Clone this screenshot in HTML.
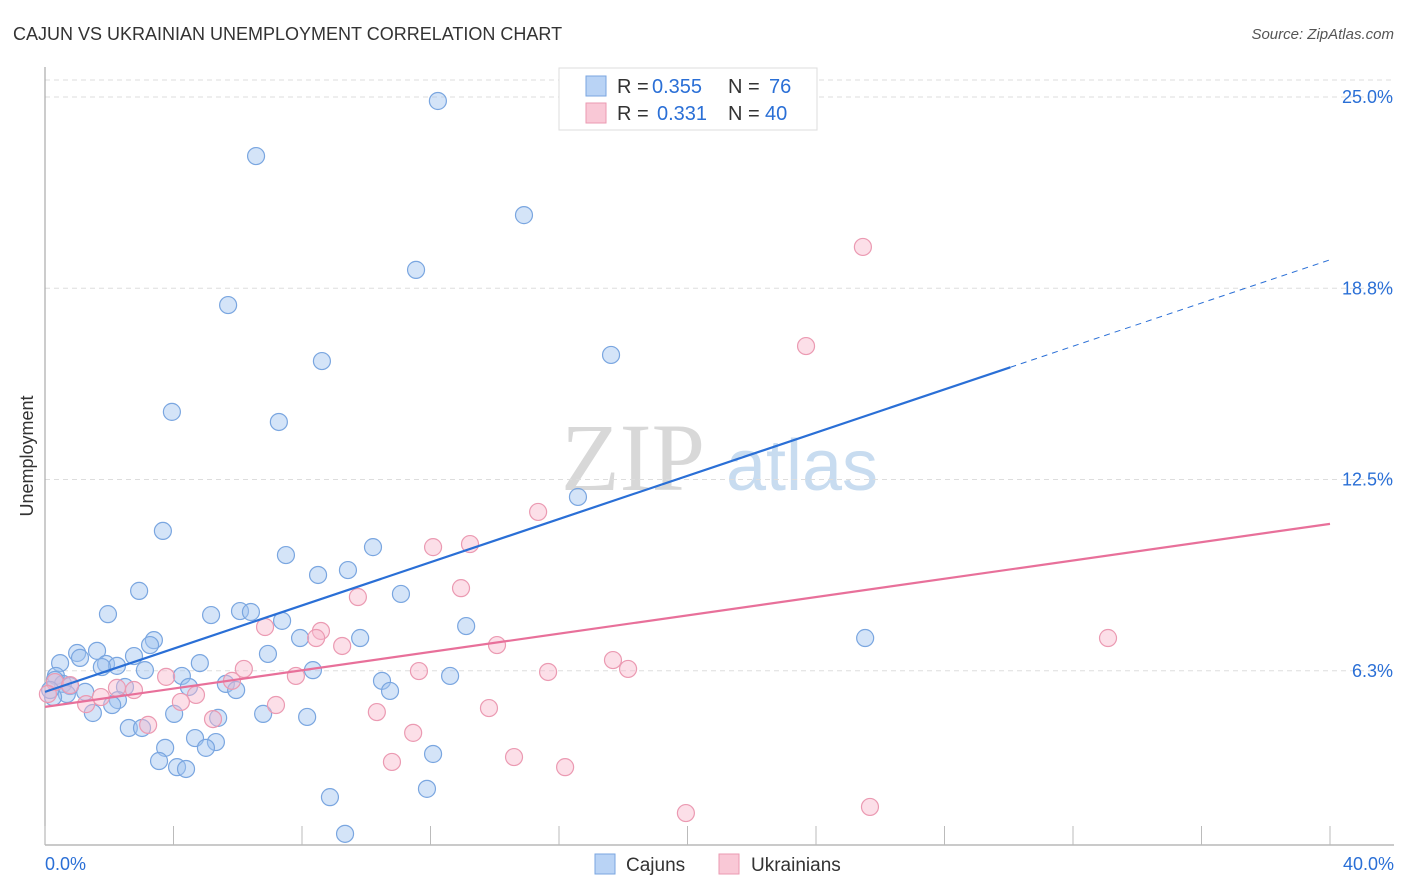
<!DOCTYPE html>
<html><head><meta charset="utf-8"><style>
body{margin:0;background:#fff;font-family:"Liberation Sans",sans-serif;}
svg{display:block}
</style></head><body>
<svg id="chart" width="1406" height="892" xmlns="http://www.w3.org/2000/svg">
<text x="13" y="40" font-size="18" fill="#333">CAJUN VS UKRAINIAN UNEMPLOYMENT CORRELATION CHART</text>
<text x="1394" y="39" font-size="15" fill="#555" font-style="italic" text-anchor="end">Source: ZipAtlas.com</text>
<text transform="translate(33,456) rotate(-90)" font-size="18" fill="#333" text-anchor="middle">Unemployment</text>
<g>
<text x="633" y="490" font-size="96" font-family="Liberation Serif,serif" fill="#d8d8d8" text-anchor="middle">ZIP</text>
<text x="802" y="490" font-size="72" fill="#c8dcf0" text-anchor="middle">atlas</text>
</g>
<g id="grid"></g>
<g id="axes"></g>
<g id="marks"></g>
<g>
<rect x="559" y="68" width="258" height="62" fill="#fff" stroke="#ddd"/>
<rect x="586" y="76" width="20" height="20" fill="#b9d3f5" stroke="#7aa6e0"/>
<rect x="586" y="103" width="20" height="20" fill="#f9c8d6" stroke="#eb9ab2"/>
<g font-size="20" fill="#333">
<text x="617" y="93">R =</text><text x="652" y="93" fill="#2a6fd6">0.355</text>
<text x="728" y="93">N =</text><text x="769" y="93" fill="#2a6fd6">76</text>
<text x="617" y="120">R =</text><text x="657" y="120" fill="#2a6fd6">0.331</text>
<text x="728" y="120">N =</text><text x="765" y="120" fill="#2a6fd6">40</text>
</g>
</g>
<g>
<rect x="595" y="854" width="20" height="20" fill="#b9d3f5" stroke="#7aa6e0"/>
<text x="626" y="871" font-size="19" fill="#333">Cajuns</text>
<rect x="719" y="854" width="20" height="20" fill="#f9c8d6" stroke="#eb9ab2"/>
<text x="751" y="871" font-size="19" fill="#333">Ukrainians</text>
</g>
</svg>
<script>
const xTicks=[0,4,8,12,16,20,24,28,32,36,40];
const yTicks=[6.25,12.5,18.75,25];
const yTickLabels=["6.3%","12.5%","18.8%","25.0%"];
const cajunX=[12.23,6.57,14.91,11.55,5.70,17.62,8.62,3.95,7.28,16.59,3.67,10.21,7.50,9.43,8.50,2.93,11.08,1.96,5.17,6.07,6.41,7.38,13.11,3.39,3.27,7.94,9.81,25.53,1.62,1.00,1.09,2.77,1.90,0.47,2.24,4.82,3.11,6.94,8.34,1.77,0.34,4.26,12.61,10.49,5.63,4.48,0.56,0.78,2.49,5.95,10.74,1.25,0.68,0.25,2.27,2.09,1.49,4.02,6.79,8.16,5.39,2.61,3.02,4.67,5.32,3.74,5.01,12.08,3.55,4.11,4.39,11.89,8.87,9.34,0.31,0.16];
const cajunY=[24.87,23.07,21.14,19.35,18.20,16.57,16.37,14.71,14.38,11.93,10.82,10.29,10.03,9.54,9.38,8.86,8.76,8.10,8.07,8.20,8.17,7.88,7.71,7.25,7.09,7.32,7.32,7.32,6.90,6.83,6.67,6.73,6.47,6.50,6.41,6.50,6.27,6.80,6.27,6.37,6.08,6.08,6.08,5.92,5.82,5.72,5.82,5.75,5.72,5.62,5.59,5.56,5.49,5.39,5.29,5.13,4.87,4.84,4.84,4.74,4.71,4.38,4.38,4.05,3.92,3.73,3.73,3.53,3.30,3.10,3.04,2.39,2.12,0.92,5.95,5.62];
const ukrX=[25.46,23.69,15.35,13.23,12.08,12.95,9.74,6.85,8.59,8.44,9.25,14.07,33.09,17.68,18.15,15.66,6.19,11.64,7.81,3.77,5.82,0.31,0.78,2.24,2.77,0.09,1.74,4.70,4.23,1.28,7.19,10.33,13.82,5.23,3.21,11.46,10.80,14.60,16.19,19.95,25.68];
const ukrY=[20.10,16.86,11.44,10.39,10.29,8.95,8.66,7.68,7.55,7.32,7.06,7.09,7.32,6.60,6.31,6.21,6.31,6.24,6.08,6.05,5.92,5.88,5.78,5.69,5.62,5.49,5.39,5.46,5.23,5.16,5.13,4.90,5.03,4.67,4.48,4.22,3.27,3.43,3.10,1.60,1.80];
const cajunTrend=[5.56,0.353];
const ukrTrend=[5.07,0.1495];
const NS="http://www.w3.org/2000/svg";
const X=v=>45+v*32.125, Y=v=>862-v*30.6;
function mk(t,a,p){const e=document.createElementNS(NS,t);for(const k in a)e.setAttribute(k,a[k]);p.appendChild(e);return e;}
const grid=document.getElementById('grid'),axes=document.getElementById('axes'),marks=document.getElementById('marks');
const tg=mk('line',{x1:45,x2:1394,y1:80,y2:80,stroke:'#ddd','stroke-dasharray':'5,4'},grid);


yTicks.forEach((t,i)=>{
 const g=mk('line',{x1:45,x2:1394,y1:Y(t),y2:Y(t),stroke:'#ddd','stroke-dasharray':'5,4'},grid);
 
 
 const l=mk('text',{x:1393,y:Y(t)+6,'font-size':18,fill:'#2a6fd6','text-anchor':'end'},axes);
 l.textContent=yTickLabels[i];
 
 
});
mk('line',{x1:45,x2:45,y1:67,y2:845,stroke:'#aaa','stroke-width':1.2},axes);
mk('line',{x1:45,x2:1394,y1:845,y2:845,stroke:'#aaa','stroke-width':1.2},axes);
xTicks.forEach(t=>{const k=mk('line',{x1:X(t),x2:X(t),y1:826,y2:845,stroke:'#bbb'},axes);
 
 });
const xl0=mk('text',{x:45,y:870,'font-size':18,fill:'#2a6fd6'},axes);xl0.textContent='0.0%';


const xl1=mk('text',{x:1394,y:870,'font-size':18,fill:'#2a6fd6','text-anchor':'end'},axes);xl1.textContent='40.0%';


cajunX.forEach((x,i)=>{const c=mk('circle',{cx:X(x),cy:Y(cajunY[i]),r:8.5,fill:'rgba(160,195,240,0.45)',stroke:'#7aa6e0','stroke-width':1.2},marks);
 
 });
ukrX.forEach((x,i)=>{const c=mk('circle',{cx:X(x),cy:Y(ukrY[i]),r:8.5,fill:'rgba(248,185,205,0.45)',stroke:'#eb9ab2','stroke-width':1.2},marks);
 
 });
const f=(p,x)=>p[0]+p[1]*x;
const b1=mk('line',{x1:X(0),y1:Y(f(cajunTrend,0)),x2:X(30.05),y2:Y(f(cajunTrend,30.05)),stroke:'#2a6fd6','stroke-width':2.2},marks);


const b2=mk('line',{x1:X(30.05),y1:Y(f(cajunTrend,30.05)),x2:X(40),y2:Y(f(cajunTrend,40)),stroke:'#2a6fd6','stroke-width':1,'stroke-dasharray':'6,5'},marks);


const p1=mk('line',{x1:X(0),y1:Y(f(ukrTrend,0)),x2:X(40),y2:Y(f(ukrTrend,40)),stroke:'#e8709a','stroke-width':2.2},marks);


</script>
</body></html>
